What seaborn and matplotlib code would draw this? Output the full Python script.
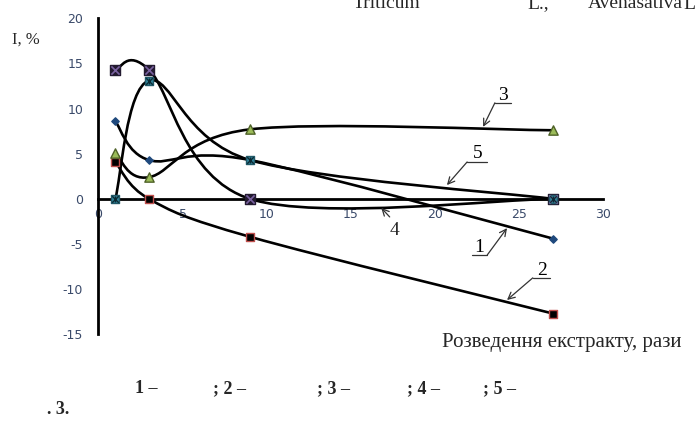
import numpy as np
import pandas as pd
import matplotlib
matplotlib.use('Agg')
import matplotlib.pyplot as plt
from matplotlib.path import Path
from matplotlib.patches import PathPatch
import seaborn as sns

# Dilution factors and inhibition values (%) for the five extracts
dilution = [1, 3, 9, 27]
s1 = [8.6, 4.3, 4.3, -4.4]
s2 = [4.1, 0.0, -4.2, -12.7]
s3 = [5.1, 2.4, 7.7, 7.6]
s4 = [14.3, 14.3, 0.0, 0.0]
s5 = [0.0, 13.1, 4.3, 0.0]
series_names = ['1', '2', '3', '4', '5']
x_ticks = [0, 5, 10, 15, 20, 25, 30]
y_ticks = [-15, -10, -5, 0, 5, 10, 15, 20]

df = pd.DataFrame({
    'dilution': dilution * 5,
    'value': s1 + s2 + s3 + s4 + s5,
    'series': np.repeat(series_names, len(dilution)),
})

sns.set_theme(style='white')
plt.rcParams['font.family'] = ['DejaVu Sans']
plt.rcParams['axes.unicode_minus'] = False

fig = plt.figure(figsize=(6.95, 4.22), dpi=100)
ax = fig.add_axes([0.1417, 0.2078, 0.7266, 0.7488])


def smooth_path(xs, ys):
    # Excel-like smoothed line: cubic Bezier with control points at 1/6 of neighbour span
    pts = np.column_stack([xs, ys]).astype(float)
    n = len(pts)
    verts = [pts[0]]
    codes = [Path.MOVETO]
    for i in range(n - 1):
        p0 = pts[i - 1] if i > 0 else pts[i]
        p1, p2 = pts[i], pts[i + 1]
        p3 = pts[i + 2] if i + 2 < n else pts[i + 1]
        c1 = p1 + (p2 - p0) / 6.0
        c2 = p2 - (p3 - p1) / 6.0
        verts += [c1, c2, p2]
        codes += [Path.CURVE4] * 3
    return Path(verts, codes)


for name in series_names:
    sub = df[df['series'] == name]
    ax.add_patch(PathPatch(smooth_path(sub['dilution'], sub['value']),
                           facecolor='none', edgecolor='black', lw=1.9, zorder=3,
                           capstyle='round'))

# markers
styles = {
    '1': dict(marker='D', s=14, color='#1F497D', edgecolor='#1F497D'),
    '2': dict(marker='s', s=40, color='black', edgecolor='#C0504D'),
    '3': dict(marker='^', s=45, color='#9BBB59', edgecolor='#4F6228'),
    '4': dict(marker='s', s=60, color='#231A30', edgecolor='#231A30'),
    '5': dict(marker='s', s=40, color='#31859C', edgecolor='#215968'),
}
for name in series_names:
    sub = df[df['series'] == name]
    sns.scatterplot(data=sub, x='dilution', y='value', ax=ax, legend=False,
                    linewidth=1.0, zorder=4, **styles[name])
sub4 = df[df['series'] == '4']
sns.scatterplot(data=sub4, x='dilution', y='value', ax=ax, legend=False,
                marker='x', s=35, color='#7A62A0', linewidth=1.2, zorder=5)
sub5 = df[df['series'] == '5']
sns.scatterplot(data=sub5, x='dilution', y='value', ax=ax, legend=False,
                marker='x', s=22, color='#0B2A33', linewidth=1.0, zorder=5)
sns.scatterplot(data=sub5, x='dilution', y='value', ax=ax, legend=False,
                marker='|', s=22, color='#0B2A33', linewidth=1.0, zorder=5)

ax.set_xlim(0, 30)
ax.set_ylim(-15, 20)
ax.set_xticks(x_ticks)
ax.set_yticks(y_ticks)
ax.set_xlabel('')
ax.set_ylabel('')
ax.spines['top'].set_visible(False)
ax.spines['right'].set_visible(False)
ax.spines['bottom'].set_position(('data', 0))
for sp in ['left', 'bottom']:
    ax.spines[sp].set_color('black')
    ax.spines[sp].set_linewidth(2)
ax.tick_params(axis='both', direction='in', length=5, width=2, color='black',
               labelsize=9, labelcolor='#3A4A6A')
ax.tick_params(axis='x', pad=6.5)
ax.tick_params(axis='y', pad=11)
ax.set_facecolor('none')

serif = ['Liberation Serif', 'DejaVu Serif']

# leader-line labels
def leader(label, tx, ty, ux0, ux1, uy, ax_tip, ay_tip, from_left=True):
    ax.text(tx, ty, label, family=serif, fontsize=14, ha='center', va='baseline',
            color='black')
    ax.plot([ux0, ux1], [uy, uy], color='#333333', lw=0.9)
    sx = ux0 if from_left else ux1
    ax.annotate('', xy=(ax_tip, ay_tip), xytext=(sx, uy),
                arrowprops=dict(arrowstyle='->', color='#333333', lw=0.9,
                                shrinkA=0, shrinkB=0, mutation_scale=12))

leader('3', 24.05, 11.0, 23.55, 24.5, 10.64, 22.85, 7.98)
leader('5', 22.55, 4.5, 21.9, 23.1, 4.09, 20.7, 1.53)
leader('1', 22.6, -5.9, 22.2, 23.1, -6.2, 24.27, -3.24, from_left=False)
leader('2', 26.35, -8.4, 25.8, 26.8, -8.75, 24.27, -11.2)
ax.text(17.6, -4.0, '4', family=serif, fontsize=14, ha='center', va='baseline')
ax.annotate('', xy=(16.8, -1.0), xytext=(17.3, -2.0),
            arrowprops=dict(arrowstyle='->', color='#333333', lw=0.9,
                            shrinkA=0, shrinkB=0, mutation_scale=12))

# axis titles
fig.text(12 / 695, 1 - 40 / 422, 'I, %', family=serif, fontsize=12,
         ha='left', va='center')
fig.text(682 / 695, 1 - 342 / 422, 'Розведення екстракту, рази', family=serif,
         fontsize=15, ha='right', va='center')

# clipped heading at the top
top_y = 1 - 8 / 422
for px, s in [(353, 'Triticum'), (527, 'L.,'), (588, 'Avenasativa'), (683, 'L.,')]:
    fig.text(px / 695, top_y, s, family=serif, fontsize=14, ha='left', va='baseline')

# caption
cap_y = 1 - 393 / 422
for px, s in [(135, '1 –'), (213, '; 2 –'), (317, '; 3 –'), (407, '; 4 –'), (483, '; 5 –')]:
    fig.text(px / 695, cap_y, s, family=serif, fontsize=13, fontweight='bold',
             ha='left', va='baseline')
fig.text(47 / 695, 1 - 414 / 422, '. 3.', family=serif, fontsize=13,
         fontweight='bold', ha='left', va='baseline')

fig.savefig('out.png', dpi=100)
